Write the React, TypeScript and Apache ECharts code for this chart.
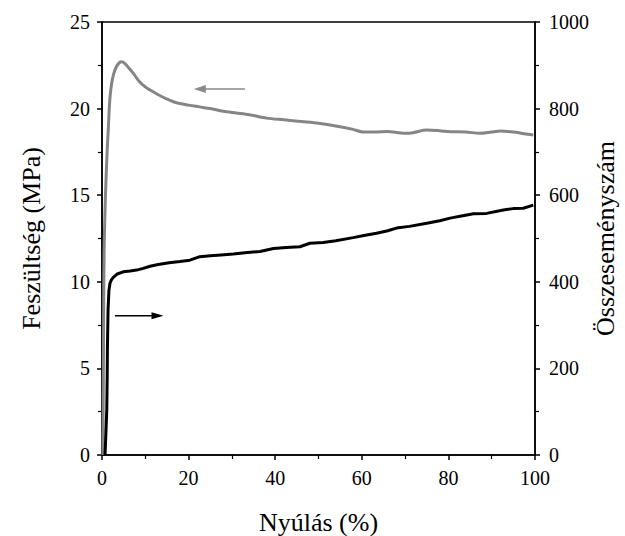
import React, { useEffect, useRef } from "react";
import * as echarts from "echarts";

// Stress curve (left axis, MPa)
const stressX = [0.2, 0.3, 0.4, 0.5, 0.8, 1.2, 1.45, 1.8, 2.2, 2.7, 3.3, 4.0, 4.6, 5.3, 6.2, 7.2, 8.5, 10, 11.1, 13, 15, 17, 20, 22.5, 25, 28, 31, 34, 38, 42, 46, 50, 54, 58, 60.3, 63, 66, 68, 70.4, 72, 75, 78, 80.4, 84, 87.3, 90, 92, 95, 97.5, 99.6];
const stressY = [0, 4, 9, 12, 15, 17.6, 18.8, 20.5, 21.4, 22.0, 22.4, 22.65, 22.7, 22.6, 22.35, 22.05, 21.6, 21.25, 21.07, 20.8, 20.55, 20.35, 20.2, 20.1, 20.0, 19.85, 19.75, 19.65, 19.45, 19.35, 19.25, 19.15, 19.0, 18.8, 18.65, 18.65, 18.68, 18.62, 18.57, 18.62, 18.76, 18.72, 18.67, 18.65, 18.57, 18.65, 18.7, 18.65, 18.55, 18.48];

// Cumulative event count (right axis)
const countX = [0.7, 0.9, 1.1, 1.2, 1.25, 1.4, 1.6, 1.85, 2.2, 2.6, 3.5, 4.9, 6.5, 8, 9.5, 11.1, 13, 15.5, 18, 20.3, 22.6, 25, 27.5, 30.3, 33, 36.5, 39.6, 42.5, 45.7, 48, 51.1, 54, 58, 60.5, 63.4, 66, 68, 71, 75, 78, 80.4, 83, 85.8, 88.8, 92.7, 95, 97.3, 99.6];
const countY = [0, 50, 104, 180, 247, 335, 380, 397, 405, 410, 418, 423, 425, 427, 431, 436, 440, 444, 447, 450, 458, 460, 462, 464, 467, 470, 477, 479, 481, 489, 491, 495, 502, 507, 512, 518, 524, 528, 535, 541, 547, 552, 557, 558, 566, 569, 570, 577];

const xTicks = { min: 0, max: 100, interval: 20 };
const leftTicks = { min: 0, max: 25, interval: 5 };
const rightTicks = { min: 0, max: 1000, interval: 200 };

const xName = "Nyúlás (%)";
const leftName = "Feszültség (MPa)";
const rightName = "Összeseményszám";

const FONT = "Liberation Serif";

export default function App() {
  const ref = useRef<HTMLDivElement>(null);
  useEffect(() => {
    if (!ref.current) return;
    const chart = echarts.init(ref.current, null, { renderer: "svg" });
    const axisCommon = {
      axisLine: { show: true, lineStyle: { color: "#000", width: 1.5 } },
      axisTick: { show: true, inside: false, length: 5, lineStyle: { color: "#000", width: 1.5 } },
      minorTick: { show: true, splitNumber: 2, length: 4, lineStyle: { color: "#000", width: 1.2 } },
      splitLine: { show: false },
      axisLabel: { color: "#000", fontFamily: FONT, fontSize: 20, formatter: (v: number) => String(v) },
      nameTextStyle: { color: "#000", fontFamily: FONT, fontSize: 26 },
      nameLocation: "middle" as const,
      nameMoveOverlap: false,
    };
    chart.setOption({
      animation: false,
      backgroundColor: "#fff",
      grid: {
        left: 102, right: 90, top: 22, bottom: 81,
        show: true, borderColor: "#000", borderWidth: 1.5,
        outerBoundsMode: "none",
      },
      xAxis: {
        type: "value",
        ...xTicks,
        ...axisCommon,
        axisLabel: { ...axisCommon.axisLabel, margin: 13 },
        name: xName,
        nameGap: 54,
      },
      yAxis: [
        {
          type: "value",
          ...leftTicks,
          ...axisCommon,
          position: "left",
          axisLabel: { ...axisCommon.axisLabel, margin: 12 },
          name: leftName,
          nameGap: 58,
        },
        {
          type: "value",
          ...rightTicks,
          ...axisCommon,
          position: "right",
          axisLabel: { ...axisCommon.axisLabel, margin: 14 },
          name: rightName,
          nameGap: 57,
          nameRotate: 90,
        },
      ],
      series: [
        {
          type: "line",
          yAxisIndex: 0,
          data: stressX.map((x, i) => [x, stressY[i]]),
          showSymbol: false,
          smooth: 0.3,
          lineStyle: { color: "#858585", width: 3 },
        },
        {
          type: "line",
          yAxisIndex: 1,
          data: countX.map((x, i) => [x, countY[i]]),
          showSymbol: false,
          lineStyle: { color: "#000", width: 3 },
        },
      ],
    });

    // annotation arrows placed via data coordinates
    const g1a = chart.convertToPixel({ xAxisIndex: 0, yAxisIndex: 0 }, [33, 21.13]) as number[];
    const g1b = chart.convertToPixel({ xAxisIndex: 0, yAxisIndex: 0 }, [21.2, 21.13]) as number[];
    const b1a = chart.convertToPixel({ xAxisIndex: 0, yAxisIndex: 0 }, [3.0, 8.04]) as number[];
    const b1b = chart.convertToPixel({ xAxisIndex: 0, yAxisIndex: 0 }, [14.2, 8.04]) as number[];
    chart.setOption({
      graphic: [
        {
          type: "line",
          shape: { x1: g1a[0], y1: g1a[1], x2: g1b[0] + 10, y2: g1b[1] },
          style: { stroke: "#8a8a8a", lineWidth: 1.5 },
        },
        {
          type: "polygon",
          shape: { points: [[g1b[0], g1b[1]], [g1b[0] + 12, g1b[1] - 4], [g1b[0] + 12, g1b[1] + 4]] },
          style: { fill: "#8a8a8a" },
        },
        {
          type: "line",
          shape: { x1: b1a[0], y1: b1a[1], x2: b1b[0] - 10, y2: b1b[1] },
          style: { stroke: "#000", lineWidth: 1.3 },
        },
        {
          type: "polygon",
          shape: { points: [[b1b[0], b1b[1]], [b1b[0] - 12, b1b[1] - 3.5], [b1b[0] - 12, b1b[1] + 3.5]] },
          style: { fill: "#000" },
        },
      ],
    });
    return () => chart.dispose();
  }, []);
  return <div ref={ref} style={{ width: 625, height: 536, position: "absolute", left: 0, top: 0 }} />;
}
